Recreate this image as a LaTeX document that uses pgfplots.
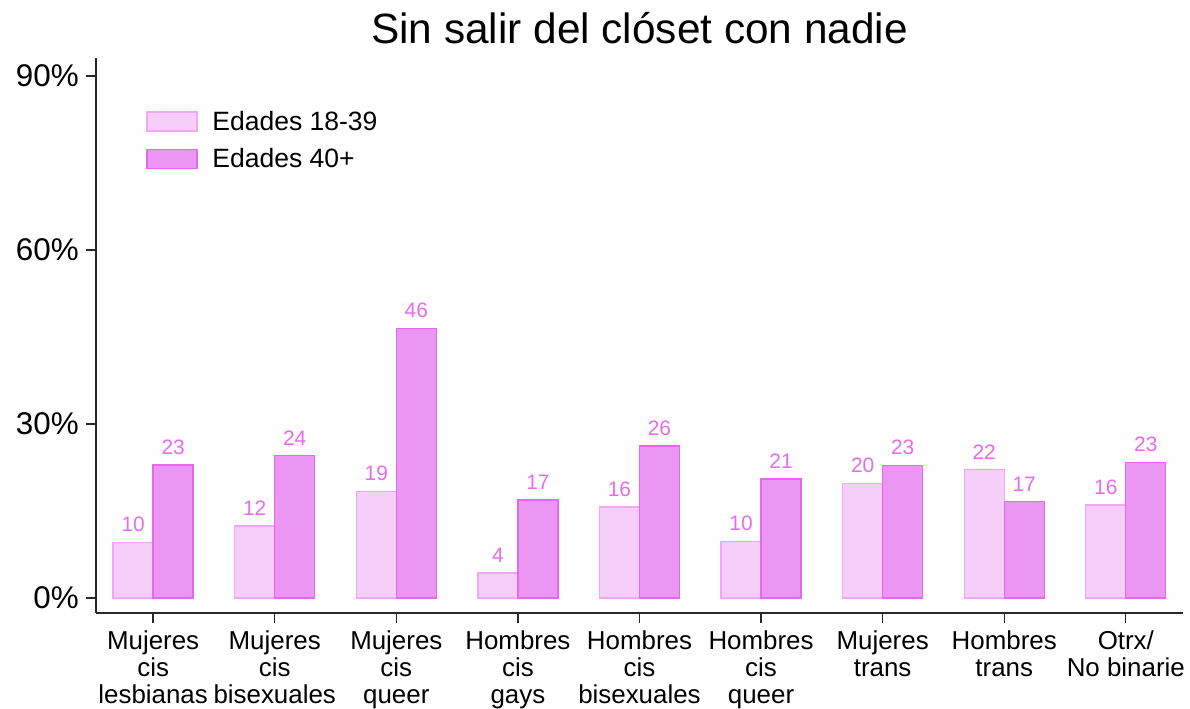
\documentclass[border=0pt]{standalone}
\usepackage{fontspec}
\setmainfont{Liberation Sans}
\usepackage{pgfplots}
\usepackage{pgfplotstable}
\pgfplotsset{compat=1.18}
\definecolor{lightfill}{RGB}{245,206,250}
\definecolor{lightedge}{RGB}{240,168,246}
\definecolor{darkfill}{RGB}{236,150,244}
\definecolor{darkedge}{RGB}{228,105,238}
\definecolor{labcol}{RGB}{230,108,238}
\definecolor{axcol}{RGB}{40,40,40}
\pgfplotstableread{
x y1 l1 y2 l2
0 9.5 10 22.9 23
1 12.4 12 24.5 24
2 18.4 19 46.4 46
3 4.3 4 16.9 17
4 15.7 16 26.2 26
5 9.7 10 20.5 21
6 19.7 20 22.8 23
7 22.1 22 16.6 17
8 16.0 16 23.3 23
}\datatab
\begin{document}
\begin{tikzpicture}
\begin{axis}[
  scale only axis,
  width=1087bp, height=555bp,
  at={(0,0)}, anchor=south west,
  xmin=-0.47, xmax=8.47,
  ymin=-2.6, ymax=93.1,
  axis x line*=bottom, axis y line*=left,
  axis line style={line width=1.3bp, axcol},
  ybar=0pt, bar width=40bp,
  xtick={0,...,8},
  xticklabels={{Mujeres\\cis\\lesbianas},{Mujeres\\cis\\bisexuales},{Mujeres\\cis\\queer},{Hombres\\cis\\gays},{Hombres\\cis\\bisexuales},{Hombres\\cis\\queer},{Mujeres\\trans},{Hombres\\trans},{Otrx/\\No binarie}},
  xticklabel style={align=center, font=\fontsize{26}{27}\selectfont, inner sep=0pt, yshift=-8bp},
  ytick={0,30,60,90},
  yticklabels={0\%,30\%,60\%,90\%},
  yticklabel style={font=\fontsize{31.5}{33}\selectfont, inner sep=0pt, xshift=-7bp},
  tick style={line width=1.3bp, axcol},
  tick align=outside,
  major tick length=10bp,
  title={Sin salir del clóset con nadie},
  title style={font=\fontsize{42.5}{45}\selectfont, at={(0.5,1)}, anchor=base, yshift=9bp},
  nodes near coords,
  point meta=explicit symbolic,
  every node near coord/.append style={font=\fontsize{21}{22}\selectfont, text=labcol, anchor=south, inner sep=0pt, yshift=10bp},
  legend style={draw=none, fill=none, at={(0.046,0.908)}, anchor=north west, inner sep=0pt,
    font=\fontsize{26.6}{28}\selectfont, row sep=12.5bp, cells={anchor=west}},
  legend image code/.code={\draw[#1, line width=1.3bp] (0bp,-9.5bp) rectangle (50bp,9.5bp);},
  /tikz/every even column/.append style={column sep=0bp},
  legend cell align=left,
]
\addplot[fill=lightfill, draw=lightedge, line width=1.3bp] table[x=x, y=y1, meta=l1] {\datatab};
\addlegendentry{\hspace{13bp}Edades 18-39}
\addplot[fill=darkfill, draw=darkedge, line width=1.3bp] table[x=x, y=y2, meta=l2] {\datatab};
\addlegendentry{\hspace{13bp}Edades 40+}
\end{axis}
\pgfresetboundingbox
\path[use as bounding box] (-96bp,-96bp) rectangle (1094bp,613bp);
\end{tikzpicture}
\end{document}
